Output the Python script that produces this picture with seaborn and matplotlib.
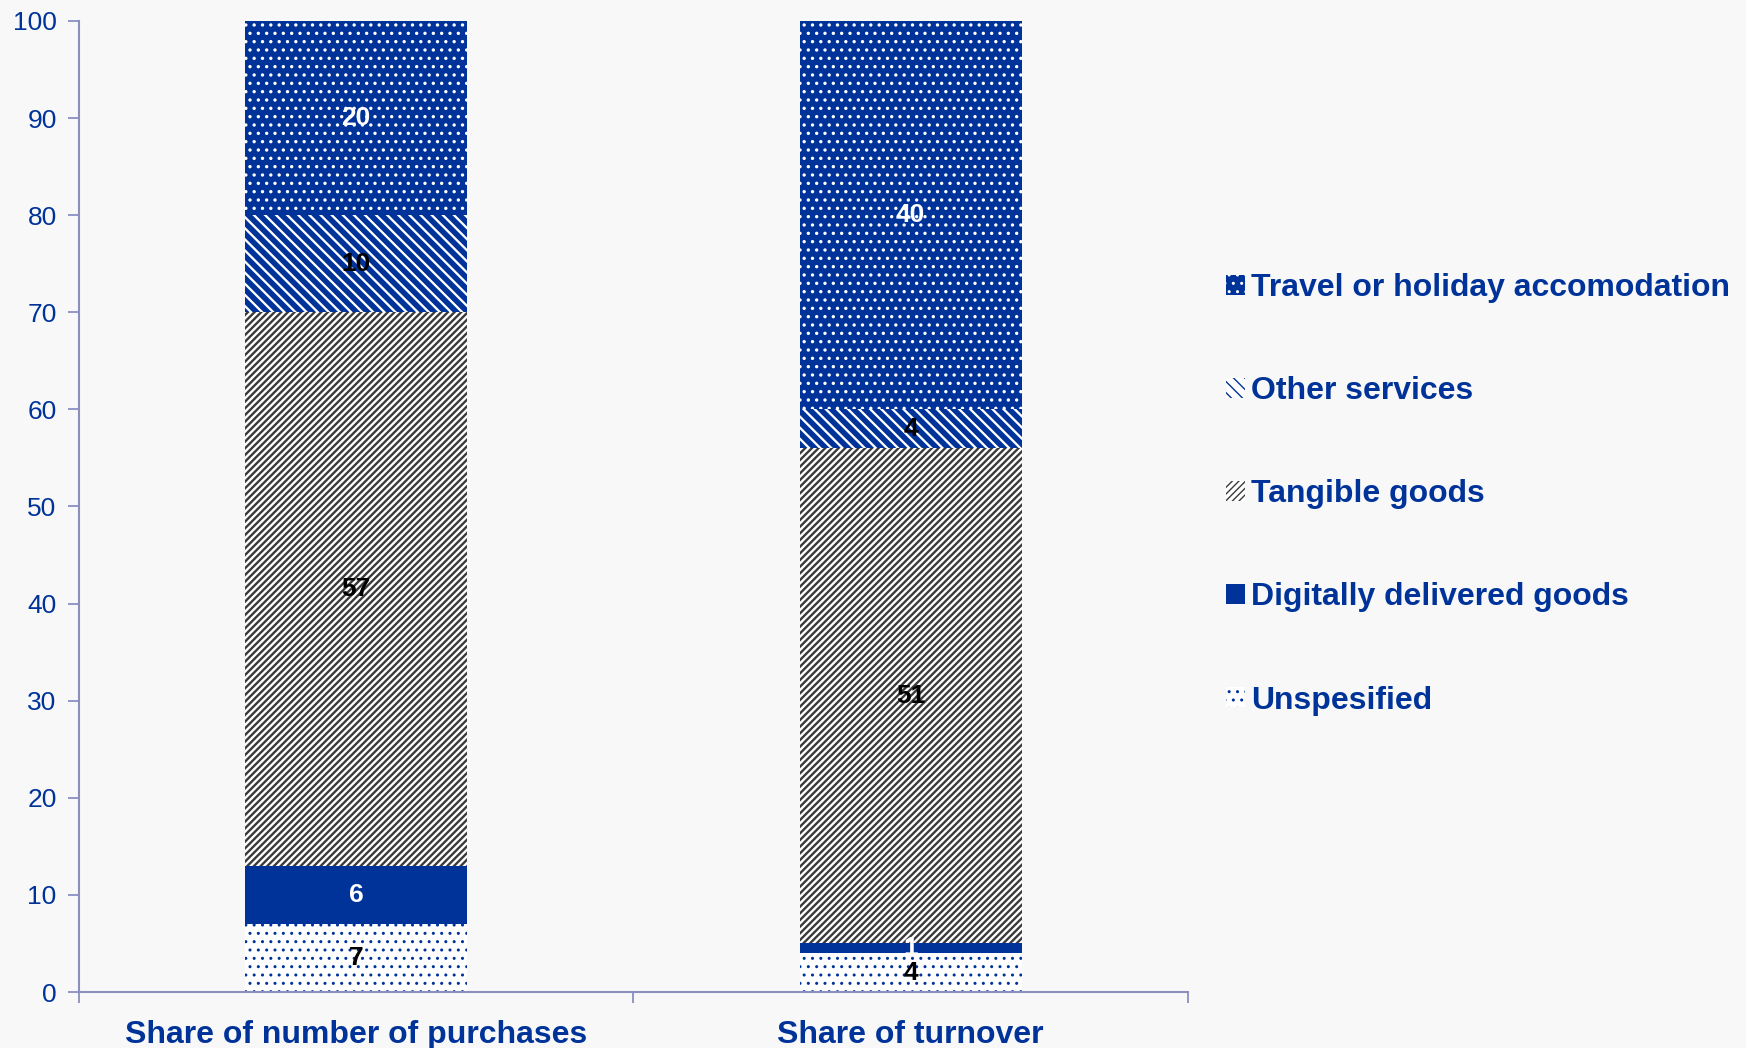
import matplotlib
matplotlib.use("Agg")
import matplotlib.pyplot as plt
import matplotlib.patches as mpatches
import seaborn as sns
import pandas as pd
import numpy as np

# ---- data ----
columns = ["Share of number of purchases", "Share of turnover"]
segments = ["Unspesified", "Digitally delivered goods", "Tangible goods",
            "Other services", "Travel or holiday accomodation"]
unspesified = [7, 4]
digital = [6, 1]
tangible = [57, 51]
other = [10, 4]
travel = [20, 40]
y_ticks = [0, 10, 20, 30, 40, 50, 60, 70, 80, 90, 100]

BLUE = "#003399"
AXC = "#8A8FC0"
BG = "#F8F8F9"

styles = {
    "Unspesified": dict(face="white", hatch_col=BLUE, hatch="..", hlw=1.0, txt="black"),
    "Digitally delivered goods": dict(face=BLUE, hatch_col=BLUE, hatch=None, hlw=1.0, txt="white"),
    "Tangible goods": dict(face="white", hatch_col="#3a3a3a", hatch="/////", hlw=1.7, txt="black"),
    "Other services": dict(face="white", hatch_col=BLUE, hatch="\\\\\\", hlw=4.0, txt="black"),
    "Travel or holiday accomodation": dict(face=BLUE, hatch_col="white", hatch="..", hlw=1.2, txt="white"),
}

values = {
    "Unspesified": unspesified,
    "Digitally delivered goods": digital,
    "Tangible goods": tangible,
    "Other services": other,
    "Travel or holiday accomodation": travel,
}

rows = []
for seg in segments:
    for c, v in zip(columns, values[seg]):
        rows.append(dict(column=c, segment=seg, value=v))
df = pd.DataFrame(rows)
df["segment"] = pd.Categorical(df["segment"], segments, ordered=True)
df = df.sort_values(["column", "segment"])
df["top"] = df.groupby("column")["value"].cumsum()
df["mid"] = df["top"] - df["value"] / 2

sns.set_theme(style="white")
plt.rcParams["font.family"] = ["Liberation Sans", "DejaVu Sans"]

fig = plt.figure(figsize=(17.46, 10.48), dpi=100, facecolor=BG)
ax = fig.add_axes([0.0452, 0.0534, 0.6352, 0.9266])
ax.set_facecolor(BG)

def style_new_patches(before, st):
    for p in ax.patches[before:]:
        p.set_facecolor(st["face"])
        p.set_edgecolor(st["hatch_col"])
        p.set_linewidth(0)
        if st["hatch"]:
            p.set_hatch(st["hatch"])
            if hasattr(p, "set_hatch_linewidth"):
                p.set_hatch_linewidth(st["hlw"])

# Draw cumulative bars from the top segment downward so each covers the rest
for seg in reversed(segments):
    st = styles[seg]
    sub = df[df["segment"] == seg]
    n0 = len(ax.patches)
    with plt.rc_context({"hatch.linewidth": st["hlw"]}):
        sns.barplot(data=sub, x="column", y="top", order=columns, ax=ax,
                    color=st["face"], saturation=1, width=0.4,
                    edgecolor=st["hatch_col"], linewidth=0, errorbar=None)
        style_new_patches(n0, st)

# data labels
for _, r in df.iterrows():
    st = styles[r["segment"]]
    xi = columns.index(r["column"])
    ax.text(xi, r["mid"], f"{int(r['value'])}", ha="center", va="center",
            fontsize=19, fontweight="bold", color=st["txt"])

ax.set_xlim(-0.5, 1.5)
ax.set_ylim(0, 100)
ax.set_yticks(y_ticks)
ax.set_yticklabels([str(t) for t in y_ticks])
ax.set_xticks([-0.5, 0.5, 1.5])
ax.set_xticklabels(["", "", ""])
ax.set_xticks([0, 1], minor=True)
ax.set_xticklabels(columns, minor=True)
ax.tick_params(axis="x", which="major", direction="out", length=8, width=1.3,
               color=AXC, bottom=True)
ax.tick_params(axis="x", which="minor", length=0, pad=20, labelsize=23,
               labelcolor=BLUE)
for lab in ax.get_xticklabels(minor=True):
    lab.set_fontweight("bold")
ax.tick_params(axis="y", direction="out", length=8, width=1.3, color=AXC,
               left=True, labelsize=19, labelcolor=BLUE, pad=8)
ax.set_xlabel("")
ax.set_ylabel("")
for s in ["top", "right"]:
    ax.spines[s].set_visible(False)
for s in ["left", "bottom"]:
    ax.spines[s].set_color(AXC)
    ax.spines[s].set_linewidth(1.5)
ax.grid(False)

# legend
handles = []
for seg in reversed(segments):
    st = styles[seg]
    h = mpatches.Patch(facecolor=st["face"], edgecolor=st["hatch_col"],
                       hatch=st["hatch"], linewidth=0, label=seg)
    if st["hatch"] and hasattr(h, "set_hatch_linewidth"):
        h.set_hatch_linewidth(min(st["hlw"], 2.5))
    handles.append(h)
leg = fig.legend(handles=handles, loc="upper left", bbox_to_anchor=(0.6855, 0.767),
                 frameon=False, handlelength=0.6, handleheight=0.6,
                 handletextpad=0.2, labelspacing=2.29,
                 prop=dict(weight="bold", size=23))
for t in leg.get_texts():
    t.set_color(BLUE)

fig.savefig("out.png", dpi=100, facecolor=BG)
